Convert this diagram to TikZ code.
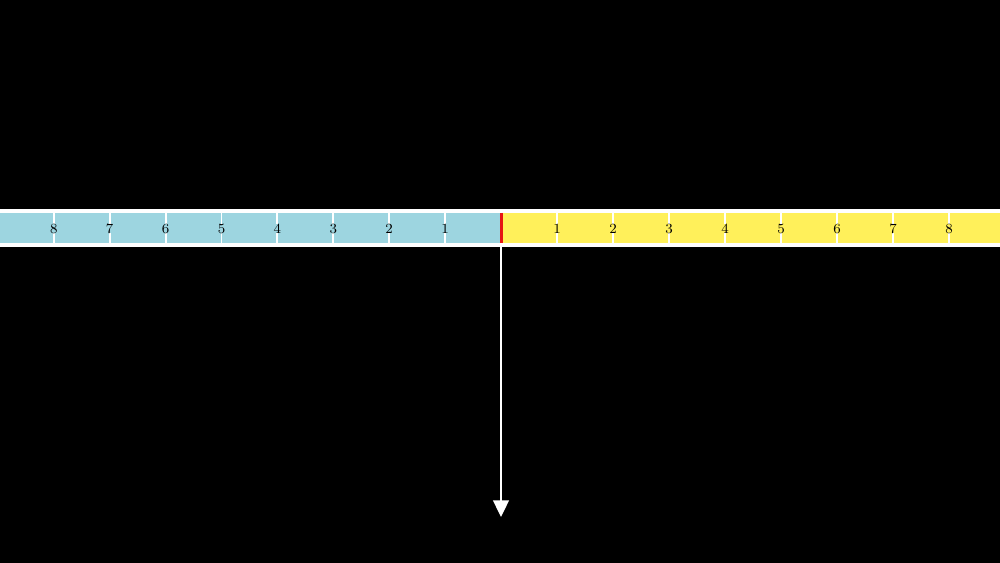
\documentclass[tikz,border=0pt]{standalone}
\usepackage{xcolor}
\usepackage{tikz}
\usetikzlibrary{
	arrows.meta,
	calc
}

\definecolor{pastblue}{RGB}{157,213,224}
\definecolor{futureyellow}{RGB}{255,240,90}
\definecolor{nowred}{RGB}{230,20,20}

\tikzset{
	tickline/.style={white, line width=1.1pt},
	ticknum/.style={inner sep=0pt, font=\fontsize{8}{9}\selectfont, text=black},
}

\begin{document}
\begin{tikzpicture}[x=0.02cm, y=-0.02cm]
		\fill[black] (0,0) rectangle (1000,563);
		\fill[white] (0,209) rectangle (1000,247);
		\fill[pastblue] (0,213) rectangle (501,243);
		\fill[futureyellow] (501,213) rectangle (1000,243);
		% past side
		\foreach \i in {1,...,8} {
			\draw[tickline] ({501-55.9*\i},213) -- ({501-55.9*\i},224);
			\draw[tickline] ({501-55.9*\i},233) -- ({501-55.9*\i},243);
			\node[ticknum] (past\i) at ({501-55.9*\i},228.5) {\i};
		}
		% future side
		\foreach \i in {1,...,8} {
			\draw[tickline] ({501+56*\i},213) -- ({501+56*\i},224);
			\draw[tickline] ({501+56*\i},233) -- ({501+56*\i},243);
			\node[ticknum] (future\i) at ({501+56*\i},228.5) {\i};
		}
		\draw[nowred, line width=1.7pt] (501,213) -- (501,243);
		\coordinate (now) at (501,247);
		\coordinate (tip) at (501,517);
		\draw[white, line width=1.1pt, -{Triangle[length=9.5pt, width=9pt]}] (now) -- (tip);
	\end{tikzpicture}
\end{document}
